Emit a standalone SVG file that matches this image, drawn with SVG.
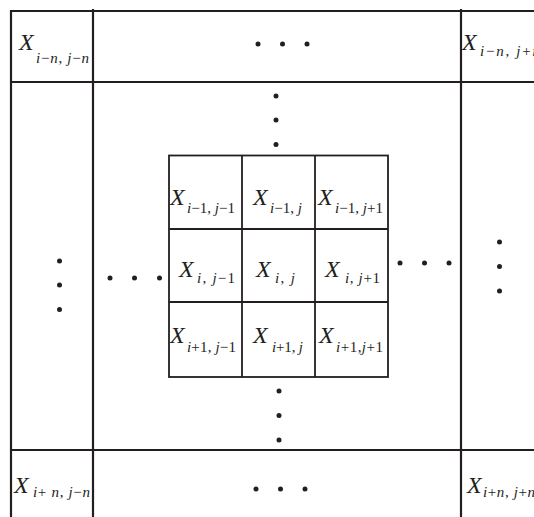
<svg xmlns="http://www.w3.org/2000/svg" width="534" height="517" viewBox="0 0 534 517">
<style>
.ln{stroke:#231f20;stroke-width:2.2;fill:none}
.in{stroke:#231f20;stroke-width:1.8;fill:none}
.x{font-family:"Liberation Serif","Times New Roman",serif;font-style:italic;font-size:24px;fill:#231f20}
.s{font-family:"Liberation Serif","Times New Roman",serif;font-style:italic;font-size:15px;fill:#231f20}
.n{font-style:normal}
.d{fill:#231f20}
</style>
<rect width="534" height="517" fill="#fff"/>
<g id="grid">
<line class="ln" x1="11" y1="11" x2="534" y2="11"/>
<line class="ln" x1="11" y1="82" x2="534" y2="82"/>
<line class="ln" x1="11" y1="450" x2="534" y2="450"/>
<line class="ln" x1="11" y1="10" x2="11" y2="517"/>
<line class="ln" x1="93" y1="9" x2="93" y2="517"/>
<line class="ln" x1="461" y1="9" x2="461" y2="517"/>
</g>
<g id="inner-grid">
<rect class="in" x="169" y="155.5" width="219" height="221.5"/>
<line class="in" x1="242" y1="155.5" x2="242" y2="377"/>
<line class="in" x1="315" y1="155.5" x2="315" y2="377"/>
<line class="in" x1="169" y1="229" x2="388" y2="229"/>
<line class="in" x1="169" y1="302" x2="388" y2="302"/>
</g>
<g id="corner-tl"><text class="x" x="19" y="50">X</text><text class="s" x="36" y="63" textLength="53" lengthAdjust="spacing">i<tspan class="n">−</tspan>n<tspan class="n">,</tspan> j<tspan class="n">−</tspan>n</text></g>
<g id="corner-tr"><text class="x" x="462" y="50">X</text><text class="s" x="480" y="56" textLength="60" lengthAdjust="spacing">i<tspan class="n">−</tspan>n<tspan class="n">,</tspan> j<tspan class="n">+</tspan>n</text></g>
<g id="corner-bl"><text class="x" x="14" y="493">X</text><text class="s" x="33" y="497" textLength="57" lengthAdjust="spacing">i<tspan class="n">+</tspan> n<tspan class="n">,</tspan> j<tspan class="n">−</tspan>n</text></g>
<g id="corner-br"><text class="x" x="467" y="493">X</text><text class="s" x="483" y="497" textLength="52" lengthAdjust="spacing">i<tspan class="n">+</tspan>n<tspan class="n">,</tspan> j<tspan class="n">+</tspan>n</text></g>
<g id="c-m1-m1"><text class="x" x="170" y="205">X</text><text class="s" x="187" y="213" textLength="48" lengthAdjust="spacing">i<tspan class="n">−1,</tspan> j<tspan class="n">−1</tspan></text></g>
<g id="c-m1-0"><text class="x" x="253" y="205">X</text><text class="s" x="270" y="213" textLength="32" lengthAdjust="spacing">i<tspan class="n">−1,</tspan> j</text></g>
<g id="c-m1-p1"><text class="x" x="318" y="205">X</text><text class="s" x="335" y="213" textLength="48" lengthAdjust="spacing">i<tspan class="n">−1,</tspan> j<tspan class="n">+1</tspan></text></g>
<g id="c-0-m1"><text class="x" x="179" y="277">X</text><text class="s" x="197" y="283" textLength="38" lengthAdjust="spacing">i<tspan class="n">,</tspan> j<tspan class="n">−1</tspan></text></g>
<g id="c-0-0"><text class="x" x="256" y="277">X</text><text class="s" x="275" y="283" textLength="20" lengthAdjust="spacing">i<tspan class="n">,</tspan> j</text></g>
<g id="c-0-p1"><text class="x" x="325" y="277">X</text><text class="s" x="345" y="283" textLength="35" lengthAdjust="spacing">i<tspan class="n">,</tspan> j<tspan class="n">+1</tspan></text></g>
<g id="c-p1-m1"><text class="x" x="170" y="343">X</text><text class="s" x="187" y="352" textLength="49" lengthAdjust="spacing">i<tspan class="n">+1,</tspan> j<tspan class="n">−1</tspan></text></g>
<g id="c-p1-0"><text class="x" x="253" y="343">X</text><text class="s" x="272" y="352" textLength="31" lengthAdjust="spacing">i<tspan class="n">+1,</tspan> j</text></g>
<g id="c-p1-p1"><text class="x" x="319" y="343">X</text><text class="s" x="336" y="352" textLength="47" lengthAdjust="spacing">i<tspan class="n">+1,</tspan>j<tspan class="n">+1</tspan></text></g>
<g id="dots">
<circle class="d" cx="258" cy="44" r="2.5"/><circle class="d" cx="282.5" cy="44" r="2.5"/><circle class="d" cx="307" cy="44" r="2.5"/>
<circle class="d" cx="276" cy="96" r="2.5"/><circle class="d" cx="276" cy="120" r="2.5"/><circle class="d" cx="276" cy="144.5" r="2.5"/>
<circle class="d" cx="279" cy="391" r="2.5"/><circle class="d" cx="279" cy="415.5" r="2.5"/><circle class="d" cx="279" cy="440" r="2.5"/>
<circle class="d" cx="256" cy="489" r="2.5"/><circle class="d" cx="280.5" cy="489" r="2.5"/><circle class="d" cx="305" cy="489" r="2.5"/>
<circle class="d" cx="59.5" cy="261" r="2.5"/><circle class="d" cx="59.5" cy="285" r="2.5"/><circle class="d" cx="59.5" cy="309.5" r="2.5"/>
<circle class="d" cx="110" cy="278" r="2.5"/><circle class="d" cx="134.5" cy="278" r="2.5"/><circle class="d" cx="159.5" cy="278" r="2.5"/>
<circle class="d" cx="400" cy="263" r="2.5"/><circle class="d" cx="424.5" cy="263" r="2.5"/><circle class="d" cx="449" cy="263" r="2.5"/>
<circle class="d" cx="499.5" cy="242" r="2.5"/><circle class="d" cx="499.5" cy="266.5" r="2.5"/><circle class="d" cx="499.5" cy="291" r="2.5"/>
</g>
</svg>
